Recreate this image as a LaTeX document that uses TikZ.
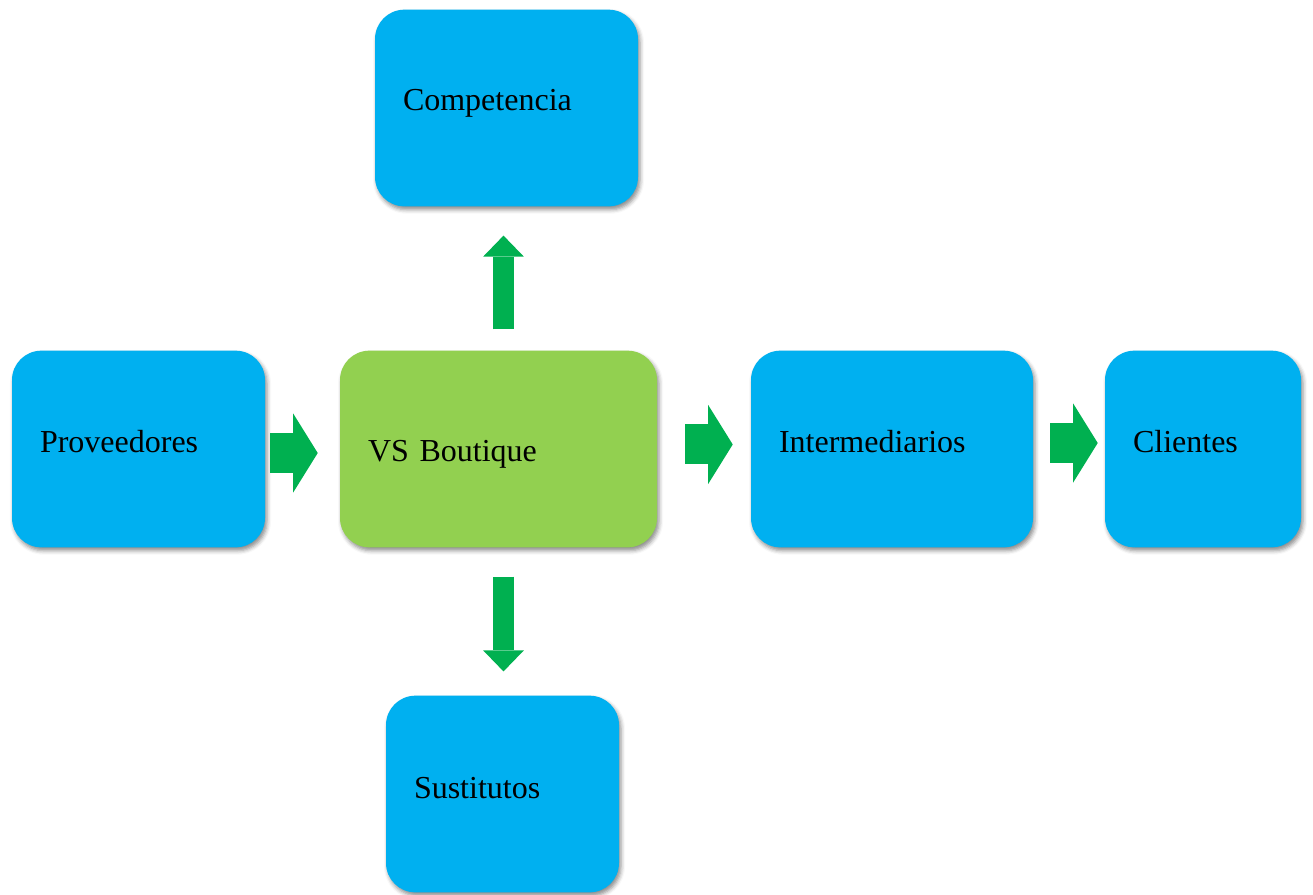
\documentclass[tikz,border=0pt]{standalone}
\usepackage{fontspec}
\setmainfont{Liberation Serif}
\usepackage{xcolor}
\definecolor{azulVS}{HTML}{00B0F0}
\definecolor{verdeVS}{HTML}{92D050}
\definecolor{flechaVS}{HTML}{00B050}
\usetikzlibrary{arrows.meta,shadows.blur}

\begin{document}
\begin{tikzpicture}[x=0.75pt,y=-0.75pt,
  caja/.style={fill=azulVS,rounded corners=22pt,inner xsep=21pt,inner ysep=0pt,
    minimum height=147.5pt,align=left,font=\fontsize{24}{28}\selectfont,
    text height=4.5pt,text depth=0pt,
    blur shadow={shadow xshift=1.5pt,shadow yshift=-2.5pt,shadow blur radius=3pt,shadow opacity=45}},
  centro/.style={caja,fill=verdeVS,text height=18pt},
  flechaH/.style={draw=flechaVS,line width=30pt,
    -{Triangle[length=18.5pt,width=59.5pt,line width=0pt]}},
  flechaV/.style={draw=flechaVS,line width=15.75pt,
    -{Triangle[length=15.75pt,width=30.5pt,line width=0pt]}}]
  \useasboundingbox (0,0) rectangle (1313,894);
  \node[caja,text width=155.25pt,text height=3pt] (competencia) at (506.5,108) {Competencia};
  \node[caja,text width=147.75pt] (proveedores) at (138.5,449) {Proveedores};
  \node[centro,text width=195.75pt] (boutique) at (498.5,449) {VS Boutique};
  \node[caja,text width=169.5pt] (intermediarios) at (892,449) {Intermediarios};
  \node[caja,text width=105pt] (clientes) at (1203,449) {Clientes};
  \node[caja,text width=132.75pt,text height=6pt] (sustitutos) at (502.5,794) {Sustitutos};
  \draw[flechaH,shorten <=3.75pt,shorten >=16.5pt]
    ([yshift=-3pt]proveedores.east)--([yshift=-3pt]boutique.west);
  \draw[flechaH,shorten <=21pt,shorten >=13.5pt]
    ([yshift=3.4pt]boutique.east)--([yshift=3.4pt]intermediarios.west);
  \draw[flechaH,shorten <=12.75pt,shorten >=5.25pt]
    ([yshift=4.5pt]intermediarios.east)--([yshift=4.5pt]clientes.west);
  \draw[flechaV,shorten <=15.75pt,shorten >=21.75pt]
    ([xshift=3.75pt]boutique.north)--([xshift=3.75pt]boutique.north |- competencia.south);
  \draw[flechaV,shorten <=21.75pt,shorten >=18pt]
    ([xshift=3.75pt]boutique.south)--([xshift=3.75pt]boutique.south |- sustitutos.north);
\end{tikzpicture}
\end{document}
